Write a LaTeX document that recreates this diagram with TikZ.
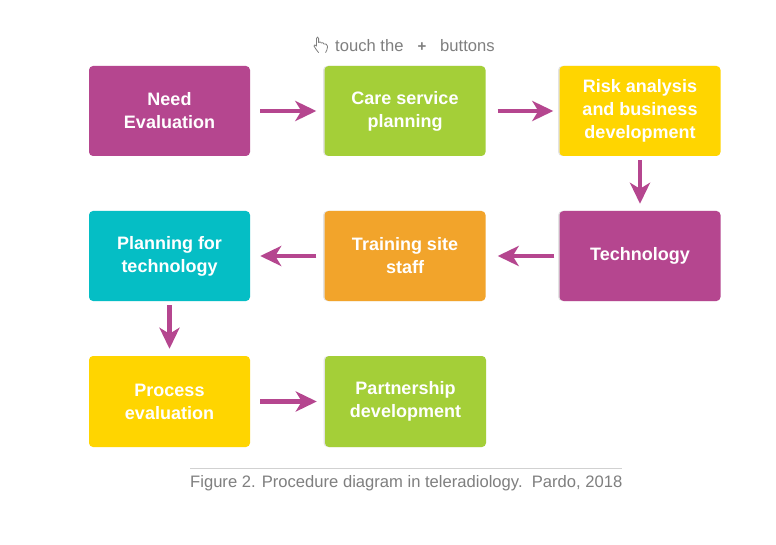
\documentclass[tikz,border=0pt]{standalone}
\usepackage{fontspec}
\setmainfont{Liberation Sans}
\usetikzlibrary{arrows.meta}
\definecolor{cmag}{HTML}{B5468F}
\definecolor{cgreen}{HTML}{A4CF38}
\definecolor{cyellow}{HTML}{FFD500}
\definecolor{cteal}{HTML}{05BEC5}
\definecolor{corange}{HTML}{F2A42B}
\definecolor{cgreytext}{HTML}{7F7F7F}
\tikzset{
  box/.style={fill=#1,rounded corners=4pt,inner sep=0pt,minimum width=161pt,minimum height=90pt,
    text=white,align=center,font=\fontsize{18}{23}\selectfont\bfseries},
  edged/.style={preaction={fill=black!11,rounded corners=4pt,transform canvas={xshift=-1.4pt}}},
  flow/.style={draw=cmag,line width=4.5pt,-{Stealth[length=21pt,width=20pt,inset=6pt]}},
  gaptext/.style={text=cgreytext,inner sep=0pt,font=\fontsize{16.6}{19}\selectfont}
}
\begin{document}
\begin{tikzpicture}[x=1pt,y=-1pt]
\useasboundingbox (0,0) rectangle (776,545);
\fill[white] (0,0) rectangle (776,545);
% boxes
\node[box=cmag] (a) at (169.5,111) {Need\\Evaluation};
\node[box=cgreen,edged] (b) at (405,111) {Care service\\planning};
\node[box=cyellow,edged] (c) at (640,111) {Risk analysis\\and business\\development};
\node[box=cmag,edged] (d) at (640,256) {Technology};
\node[box=corange,edged] (e) at (405,256) {Training site\\staff};
\node[box=cteal] (f) at (169.5,256) {Planning for\\technology};
\node[box=cyellow,minimum height=91pt] (g) at (169.5,401.5) {Process\\evaluation};
\node[box=cgreen,edged,minimum height=91pt] (h) at (405.5,401.5) {Partnership\\development};
% connectors
\draw[flow,shorten <=10pt,shorten >=8pt] (a.east) -- (b.west);
\draw[flow,shorten <=12pt,shorten >=6pt] (b.east) -- (c.west);
\draw[flow,shorten <=4pt,shorten >=7pt] (c.south) -- (d.north);
\draw[flow,shorten <=5pt,shorten >=12pt] (d.west) -- (e.east);
\draw[flow,shorten <=8pt,shorten >=10pt] (e.west) -- (f.east);
\draw[flow,shorten <=4pt,shorten >=7pt] (f.south) -- (g.north);
\draw[flow,shorten <=10pt,shorten >=8pt] (g.east) -- (h.west);
% top hint
\node[gaptext,anchor=base west] (t1) at (335,52) {touch the};
\node[gaptext,anchor=base,font=\fontsize{15}{19}\selectfont\bfseries] (t2) at (422,52) {+};
\node[gaptext,anchor=base west] (t3) at (440,52) {buttons};
% hand icon
\draw[cgreytext,line width=0.8pt,line join=round,line cap=round,fill=white]
  (318.5,52.5) .. controls (317,50) and (314.5,48) .. (314,46)
  .. controls (313.8,44.5) and (315.3,44.5) .. (316.5,46)
  -- (316.5,38.5) .. controls (316.5,36.5) and (318.6,36.5) .. (318.6,38.5)
  -- (318.6,42.5) .. controls (320,41.5) and (321,41.8) .. (321.3,43)
  .. controls (322.6,42.2) and (323.6,42.6) .. (323.8,44)
  .. controls (325.4,43.4) and (327.6,44.2) .. (327.6,46.5)
  .. controls (327.4,49) and (326.6,51) .. (325.6,52.5);
% caption
\coordinate (r1) at (190,468.5);
\coordinate (r2) at (622,468.5);
\draw[black!18,line width=0.8pt] (r1) -- (r2);
\node[gaptext,anchor=base west] (cap) at (190,487.5) {Figure 2. Procedure diagram in teleradiology.\ \ Pardo, 2018};
\end{tikzpicture}
\end{document}
